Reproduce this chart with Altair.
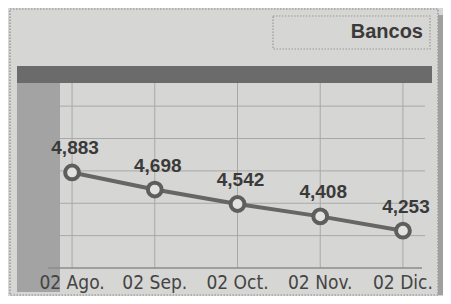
import altair as alt
import pandas as pd

# ---- data ----
fechas = ["02 Ago.", "02 Sep.", "02 Oct.", "02 Nov.", "02 Dic."]
valores = [4883, 4698, 4542, 4408, 4253]
etiquetas = ["4,883", "4,698", "4,542", "4,408", "4,253"]
grid_vals = [4200, 4550, 4900, 5250, 5600]
titulo = "Bancos"

df = pd.DataFrame({"fecha": fechas, "valor": valores, "etiqueta": etiquetas})
gdf = pd.DataFrame({"g": grid_vals})
one = pd.DataFrame({"a": [0]})

W, H = 359, 185
BG = "#d6d6d4"
INK = "#3a3a3a"
LINE = "#666666"

x = alt.X("fecha:N", sort=fechas, axis=None,
          scale=alt.Scale(type="point", padding=0.17))
y = alt.Y("valor:Q", axis=None, scale=alt.Scale(domain=[3850, 5850], zero=False))

def box(x1, x2, y1, y2, **kw):
    return alt.Chart(one).mark_rect(**kw).encode(
        x=alt.value(x1), x2=alt.value(x2), y=alt.value(y1), y2=alt.value(y2))

outer = box(-48, 380, -74, 212, fill=None, stroke="#8a8a8a",
            strokeWidth=1.2, strokeDash=[1.5, 1.5])
shadow = box(380, 386, -68, 212, fill="#a0a0a0")
title_box = box(215, 372, -67, -34, fill=None, stroke="#9a9a9a",
                strokeWidth=1.2, strokeDash=[1.5, 1.5])
title_txt = alt.Chart(one).mark_text(
    font="Liberation Sans", fontWeight="bold", fontSize=20, color=INK,
    align="right", baseline="alphabetic").encode(
    x=alt.value(365), y=alt.value(-45), text=alt.value(titulo))
dark_bar = box(-41, 374, -17, 0, fill="#6b6b6b")
left_strip = box(-41, 2, 0, 209, fill="#a3a3a3")

hgrid = alt.Chart(gdf).mark_rule(color="#a8a8a8", strokeWidth=1).encode(
    y=alt.Y("g:Q", scale=alt.Scale(domain=[3850, 5850], zero=False), axis=None),
    x=alt.value(2), x2=alt.value(367))
vgrid = alt.Chart(df).mark_rule(color="#a8a8a8", strokeWidth=1).encode(
    x=x, y=alt.value(0), y2=alt.value(185))
baseline = alt.Chart(one).mark_rule(color="#8c8c8c", strokeWidth=1.5).encode(
    x=alt.value(-10), x2=alt.value(364), y=alt.value(185))

line = alt.Chart(df).mark_line(color=LINE, strokeWidth=4).encode(x=x, y=y)
pts = alt.Chart(df).mark_point(shape="circle", filled=False, fill="#e2e2e0",
                               fillOpacity=1, stroke="#5e5e5e", strokeWidth=4,
                               size=190, opacity=1).encode(x=x, y=y)
vals = alt.Chart(df).mark_text(font="Liberation Sans", fontWeight="bold",
                               fontSize=19, color=INK, baseline="alphabetic",
                               dy=-18, dx=3).encode(x=x, y=y, text="etiqueta:N")
xlab = alt.Chart(df).mark_text(font="DejaVu Sans Condensed, Liberation Sans",
                               fontSize=19, color="#444444",
                               baseline="alphabetic").encode(
    x=x, y=alt.value(206), text="fecha:N")

chart = alt.layer(outer, shadow, title_box, title_txt, dark_bar, left_strip,
                  hgrid, vgrid, baseline, line, pts, vals, xlab).properties(
    width=W, height=H,
    autosize=alt.AutoSizeParams(type="none"),
    padding={"left": 50, "top": 75, "right": 26, "bottom": 28},
    background=BG,
).configure_view(stroke=None)

chart.save("out.html", embed_options={"renderer": "svg", "actions": False})
